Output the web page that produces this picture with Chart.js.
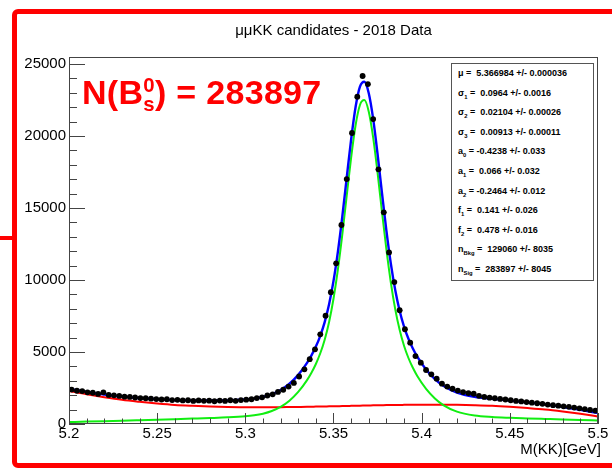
<!DOCTYPE html>
<html>
<head>
<meta charset="utf-8">
<script src="https://cdn.jsdelivr.net/npm/chart.js@4.4.1/dist/chart.umd.min.js"></script>
<style>
  html, body { margin: 0; padding: 0; background: #fff; }
  #wrap { position: relative; width: 612px; height: 469px; overflow: hidden; font-family: "Liberation Sans", Arial, sans-serif; }
  #c { position: absolute; left: 0; top: 0; }
  .frame { position: absolute; left: 12px; top: 9px; width: 640px; height: 449px; border: 5px solid #f00; border-radius: 6px; }
  .stub { position: absolute; left: 0; top: 236px; width: 14px; height: 4px; background: #f00; }
  #title { position: absolute; left: 69px; top: 21px; width: 529px; text-align: center; font-size: 15px; line-height: 18px; color: #000; }
  #xlab { position: absolute; right: 11px; top: 440px; font-size: 15px; line-height: 18px; color: #000; }
  #nb { position: absolute; left: 82px; top: 72px; color: #f00; font-weight: bold; font-size: 34px; line-height: 40px; white-space: nowrap; letter-spacing: 0.3px; }
  #nb .ss { display: inline-block; font-size: 0.6em; line-height: 0.95; vertical-align: -0.35em; text-align: left; }
  #pars { position: absolute; left: 451px; top: 63px; width: 141px; height: 216px; border: 1px solid #555; background: #fff;
          font-size: 9px; font-weight: bold; color: #000; }
  #pars div { height: 19.6px; line-height: 19.6px; padding-left: 6px; white-space: nowrap; }
  #pars sub { font-size: 0.65em; line-height: 0; }
</style>
</head>
<body>
<div id="wrap">
  <canvas id="c" width="612" height="469"></canvas>
  <div class="frame"></div>
  <div class="stub"></div>
  <div id="title">μμKK candidates - 2018 Data</div>
  <div id="nb">N(B<span class="ss">0<br>s</span>) = 283897</div>
  <div id="pars">
    <div>μ = &nbsp;5.366984 +/- 0.000036</div>
    <div>σ<sub>1</sub> = &nbsp;0.0964 +/- 0.0016</div>
    <div>σ<sub>2</sub> = &nbsp;0.02104 +/- 0.00026</div>
    <div>σ<sub>3</sub> = &nbsp;0.00913 +/- 0.00011</div>
    <div>a<sub>0</sub> = -0.4238 +/- 0.033</div>
    <div>a<sub>1</sub> = &nbsp;0.066 +/- 0.032</div>
    <div>a<sub>2</sub> = -0.2464 +/- 0.012</div>
    <div>f<sub>1</sub> = &nbsp;0.141 +/- 0.026</div>
    <div>f<sub>2</sub> = &nbsp;0.478 +/- 0.016</div>
    <div>n<sub>Bkg</sub> = &nbsp;129060 +/- 8035</div>
    <div>n<sub>Sig</sub> = &nbsp;283897 +/- 8045</div>
  </div>
  <div id="xlab">M(KK)[GeV]</div>
</div>

<script>
// histogram bins (centres, GeV) and entries per bin
const binCenters = [
  5.2015, 5.2045, 5.2075, 5.2105, 5.2135, 5.2165, 5.2195, 5.2225, 5.2255, 5.2285,
  5.2315, 5.2345, 5.2375, 5.2405, 5.2435, 5.2465, 5.2495, 5.2525, 5.2555, 5.2585,
  5.2615, 5.2645, 5.2675, 5.2705, 5.2735, 5.2765, 5.2795, 5.2825, 5.2855, 5.2885,
  5.2915, 5.2945, 5.2975, 5.3005, 5.3035, 5.3065, 5.3095, 5.3125, 5.3155, 5.3185,
  5.3215, 5.3245, 5.3275, 5.3305, 5.3335, 5.3365, 5.3395, 5.3425, 5.3455, 5.3485,
  5.3515, 5.3545, 5.3575, 5.3605, 5.3635, 5.3665, 5.3695, 5.3725, 5.3755, 5.3785,
  5.3815, 5.3845, 5.3875, 5.3905, 5.3935, 5.3965, 5.3995, 5.4025, 5.4055, 5.4085,
  5.4115, 5.4145, 5.4175, 5.4205, 5.4235, 5.4265, 5.4295, 5.4325, 5.4355, 5.4385,
  5.4415, 5.4445, 5.4475, 5.4505, 5.4535, 5.4565, 5.4595, 5.4625, 5.4655, 5.4685,
  5.4715, 5.4745, 5.4775, 5.4805, 5.4835, 5.4865, 5.4895, 5.4925, 5.4955, 5.4985
];
const counts = [
  2390, 2310, 2290, 2200, 2170, 2090, 2200, 2020, 1990, 1950,
  1900, 1880, 1840, 1800, 1790, 1760, 1730, 1700, 1720, 1660,
  1680, 1640, 1650, 1600, 1640, 1610, 1620, 1580, 1630, 1600,
  1650, 1610, 1660, 1690, 1720, 1800, 1850, 1980, 2060, 2230,
  2380, 2600, 2850, 3300, 3800, 4500, 5190, 6230, 7520, 9150,
  11160, 13820, 17010, 20210, 22730, 24170, 23610, 21180, 17690, 14700,
  11920, 9860, 7900, 6580, 5650, 4720, 4260, 3750, 3450, 3150,
  2800, 2600, 2450, 2320, 2220, 2150, 2100, 1960, 1880, 1830,
  1790, 1740, 1700, 1650, 1600, 1570, 1520, 1480, 1440, 1400,
  1350, 1310, 1270, 1230, 1190, 1140, 1090, 1040, 980, 930
];
const halfBin = 0.0015;

// fit curves (signal, background, total) sampled at curveX
const curveX = [
  5.200, 5.210, 5.220, 5.230, 5.240, 5.250, 5.260, 5.270, 5.280, 5.290,
  5.300, 5.305, 5.310, 5.315, 5.320, 5.325, 5.330, 5.335,
  5.3375, 5.340, 5.3425, 5.345, 5.3475, 5.350, 5.3525, 5.355, 5.3575, 5.360,
  5.3625, 5.365, 5.3675, 5.370, 5.3725, 5.375, 5.3775, 5.380, 5.3825, 5.385,
  5.3875, 5.390, 5.3925, 5.395, 5.3975,
  5.4025, 5.4075, 5.4125, 5.420, 5.430, 5.440, 5.450, 5.460, 5.470, 5.480, 5.490, 5.500
];
const sigCurve = [
  139, 165, 194, 226, 261, 297, 335, 374, 414, 461,
  537, 606, 718, 902, 1188, 1619, 2228, 3050,
  3562, 4169, 4912, 5858, 7090, 8697, 10733, 13170, 15858, 18508,
  20735, 22156, 22495, 21688, 19894, 17442, 14735, 12121, 9841, 7983,
  6541, 5438, 4584, 3904, 3339,
  2444, 1778, 1298, 857, 589, 485, 431, 390, 351, 312, 275, 240
];
const bkgCurve = [
  2291, 2062, 1857, 1677, 1541, 1424, 1326, 1263, 1213, 1177,
  1164, 1158, 1161, 1164, 1167, 1176, 1185, 1194,
  1200, 1207, 1213, 1219, 1226, 1232, 1239, 1246, 1254, 1261,
  1268, 1275, 1281, 1287, 1294, 1300, 1306, 1312, 1316, 1321,
  1325, 1329, 1334, 1338, 1339,
  1341, 1343, 1340, 1329, 1303, 1264, 1197, 1112, 1011, 870, 708, 523
];
const totalCurve = [
  2430, 2227, 2051, 1903, 1802, 1721, 1661, 1637, 1627, 1638,
  1701, 1764, 1879, 2066, 2355, 2795, 3413, 4244,
  4762, 5376, 6125, 7077, 8316, 9929, 11972, 14416, 17112, 19769,
  22003, 23431, 23776, 22975, 21188, 18742, 16041, 13433, 11157, 9304,
  7866, 6767, 5918, 5242, 4678,
  3785, 3121, 2638, 2186, 1892, 1749, 1628, 1502, 1362, 1182, 983, 763
];

const xTicks = [5.2, 5.25, 5.3, 5.35, 5.4, 5.45, 5.5];
const yTicks = [0, 5000, 10000, 15000, 20000, 25000];

const pts = (xs, ys) => xs.map((x, i) => ({ x: x, y: ys[i] }));

// ROOT-like frame with ticks pointing inwards, plus x error bars on the data
const rootAxes = {
  id: "rootAxes",
  beforeDatasetsDraw(chart) {
    const { ctx, scales: { x, y } } = chart;
    ctx.save();
    ctx.strokeStyle = "#000";
    ctx.lineWidth = 1;
    binCenters.forEach((c, i) => {
      const py = Math.round(y.getPixelForValue(counts[i])) + 0.5;
      ctx.beginPath();
      ctx.moveTo(x.getPixelForValue(c - halfBin), py);
      ctx.lineTo(x.getPixelForValue(c + halfBin), py);
      ctx.stroke();
    });
    ctx.restore();
  },
  afterDatasetsDraw(chart) {
    const { ctx, chartArea: a, scales: { x, y } } = chart;
    ctx.save();
    ctx.strokeStyle = "#444";
    ctx.lineWidth = 1;
    ctx.strokeRect(a.left + 0.5, a.top + 0.5, a.right - a.left - 1, a.bottom - a.top - 1);
    ctx.beginPath();
    for (let v = 0; v <= 25000; v += 1000) {
      const py = Math.round(y.getPixelForValue(v)) + 0.5;
      ctx.moveTo(a.left, py);
      ctx.lineTo(a.left + (v % 5000 === 0 ? 16 : 8), py);
    }
    for (let k = 520; k <= 550; k++) {
      const px = Math.round(x.getPixelForValue(k / 100)) + 0.5;
      ctx.moveTo(px, a.bottom);
      ctx.lineTo(px, a.bottom - (k % 5 === 0 ? 11 : 5.5));
    }
    ctx.stroke();
    ctx.restore();
  }
};

Chart.defaults.font.family = '"Liberation Sans", Arial, sans-serif';

new Chart(document.getElementById("c"), {
  type: "line",
  data: {
    datasets: [
      {
        label: "data",
        data: pts(binCenters, counts),
        showLine: false,
        pointRadius: 2.9,
        pointBackgroundColor: "#000",
        pointBorderWidth: 0,
        order: 0
      },
      {
        label: "total",
        data: pts(curveX, totalCurve),
        borderColor: "#0000ff",
        borderWidth: 2.4,
        pointRadius: 0,
        cubicInterpolationMode: "monotone",
        order: 1
      },
      {
        label: "signal",
        data: pts(curveX, sigCurve),
        borderColor: "#11ee11",
        borderWidth: 2,
        pointRadius: 0,
        cubicInterpolationMode: "monotone",
        order: 2
      },
      {
        label: "background",
        data: pts(curveX, bkgCurve),
        borderColor: "#ff0000",
        borderWidth: 2,
        pointRadius: 0,
        cubicInterpolationMode: "monotone",
        order: 3
      }
    ]
  },
  options: {
    responsive: false,
    animation: false,
    devicePixelRatio: 1,
    layout: { padding: { left: 0, right: 14, top: 57, bottom: 0 } },
    plugins: { legend: { display: false }, tooltip: { enabled: false } },
    scales: {
      x: {
        type: "linear",
        min: 5.2,
        max: 5.5,
        grid: { display: false, drawTicks: false },
        border: { display: false },
        afterBuildTicks: (s) => { s.ticks = xTicks.map((v) => ({ value: v })); },
        afterFit: (s) => { s.height = 45; },
        ticks: {
          color: "#000",
          font: { size: 15 },
          padding: 1,
          autoSkip: false,
          maxRotation: 0,
          callback: (v) => String(+Number(v).toFixed(2))
        }
      },
      y: {
        min: 0,
        max: 25490,
        grid: { display: false, drawTicks: false },
        border: { display: false },
        afterBuildTicks: (s) => { s.ticks = yTicks.map((v) => ({ value: v })); },
        afterFit: (s) => { s.width = 69; },
        ticks: {
          color: "#000",
          font: { size: 15 },
          padding: 3,
          callback: (v) => String(v)
        }
      }
    }
  },
  plugins: [rootAxes]
});
</script>
</body>
</html>
